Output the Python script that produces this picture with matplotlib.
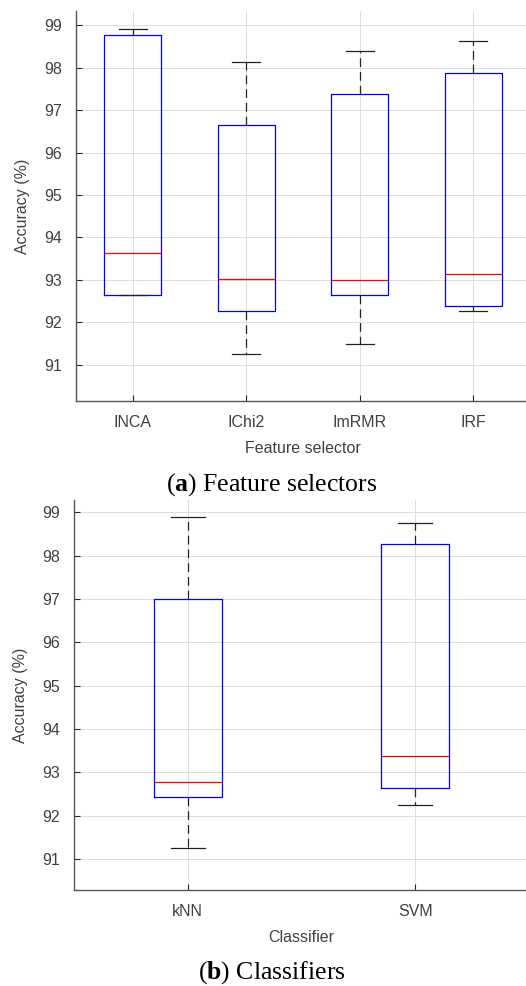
import matplotlib.pyplot as plt

# panel (a): feature selectors
selectors = ["INCA", "IChi2", "ImRMR", "IRF"]
sel_low = [92.64, 91.25, 91.50, 92.26]
sel_q1 = [92.64, 92.26, 92.64, 92.39]
sel_med = [93.64, 93.02, 92.99, 93.15]
sel_q3 = [98.76, 96.64, 97.38, 97.88]
sel_high = [98.90, 98.14, 98.38, 98.63]

# panel (b): classifiers
classifiers = ["kNN", "SVM"]
clf_low = [91.25, 92.25]
clf_q1 = [92.44, 92.63]
clf_med = [92.79, 93.38]
clf_q3 = [97.00, 98.26]
clf_high = [98.88, 98.75]

yticks = [91, 92, 93, 94, 95, 96, 97, 98, 99]

plt.rcParams['font.family'] = ['Liberation Sans', 'DejaVu Sans']
plt.rcParams['mathtext.fontset'] = 'custom'
plt.rcParams['mathtext.rm'] = 'Liberation Serif'
plt.rcParams['mathtext.bf'] = 'Liberation Serif:bold'


def box_panel(ax, names, low, q1, med, q3, high, width, ylim, xlabel):
    stats = []
    for n, lo, a, m, b, hi in zip(names, low, q1, med, q3, high):
        stats.append(dict(label=n, whislo=lo, q1=a, med=m, q3=b, whishi=hi, fliers=[]))
    ax.bxp(stats, widths=width, showfliers=False,
           boxprops=dict(color='#0000ff', linewidth=0.9),
           medianprops=dict(color='#ff0000', linewidth=0.9),
           whiskerprops=dict(color='#222222', linewidth=0.9, linestyle=(0, (7, 4))),
           capprops=dict(color='#222222', linewidth=0.9),
           capwidths=width / 2)
    ax.set_xlim(0.5, len(names) + 0.5)
    ax.set_ylim(*ylim)
    ax.set_yticks(yticks)
    ax.grid(True, color='#dddddd', linewidth=0.7)
    ax.set_axisbelow(True)
    for s in ['top', 'right']:
        ax.spines[s].set_visible(False)
    for s in ['left', 'bottom']:
        ax.spines[s].set_color('#555555')
        ax.spines[s].set_linewidth(1.0)
    ax.tick_params(direction='in', length=4, colors='#262626', labelsize=11.5,
                   labelcolor='#404040', pad=10)
    ax.tick_params(axis='x', pad=10)
    ax.set_ylabel("Accuracy (%)", fontsize=11.5, color='#404040', labelpad=10)
    ax.set_xlabel(xlabel, fontsize=11.5, color='#404040', labelpad=8)


fig = plt.figure(figsize=(5.26, 9.86), dpi=100)
ax1 = fig.add_axes([76 / 526, 1 - 401 / 986, 454 / 526, 390.3 / 986])
box_panel(ax1, selectors, sel_low, sel_q1, sel_med, sel_q3, sel_high,
          0.5, (90.15, 99.34), "Feature selector")

ax2 = fig.add_axes([74 / 526, 1 - 890 / 986, 455 / 526, 390 / 986])
box_panel(ax2, classifiers, clf_low, clf_q1, clf_med, clf_q3, clf_high,
          0.3, (90.29, 99.28), "Classifier")

cap_font = ['Liberation Serif', 'DejaVu Serif']
fig.text(272 / 526, 1 - 491 / 986, r"($\mathbf{a}$) Feature selectors", ha='center', va='baseline',
         fontsize=18.5, family=cap_font)
fig.text(272 / 526, 1 - 979 / 986, r"($\mathbf{b}$) Classifiers", ha='center', va='baseline',
         fontsize=18.5, family=cap_font)

fig.savefig("out.png", dpi=100)
